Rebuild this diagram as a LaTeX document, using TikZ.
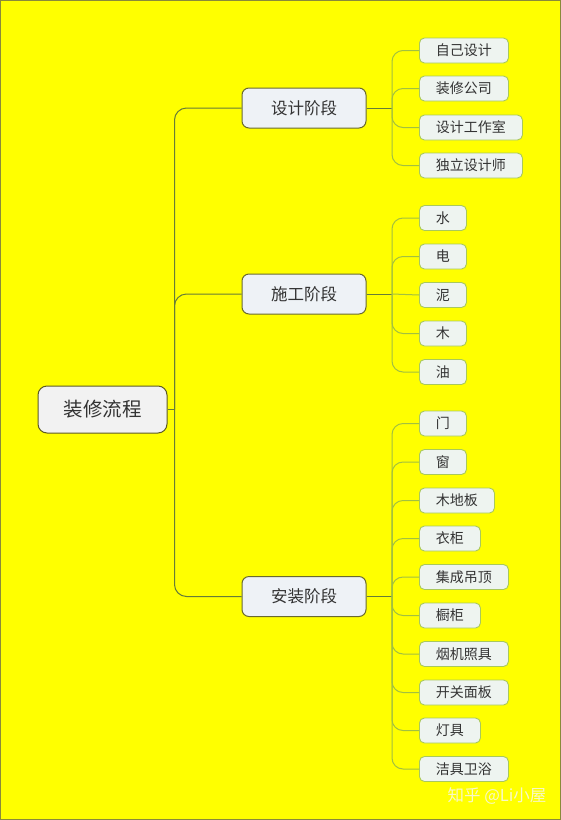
\documentclass[tikz,border=0pt]{standalone}
\usepackage{fontspec}
\newfontfamily\cjk{Noto Sans CJK SC}
\begin{document}
\begin{tikzpicture}[x=1pt,y=-1pt,
  rootbox/.style={draw=rootline,fill=rootfill,rounded corners=9pt,line width=1pt,minimum width=129pt,minimum height=47pt,inner sep=0pt,font=\cjk\fontsize{19.5}{22}\selectfont,text=txt},
  midbox/.style={draw=midline,fill=midfill,rounded corners=7pt,line width=1pt,minimum width=124pt,minimum height=40pt,inner sep=0pt,font=\cjk\fontsize{16.5}{19}\selectfont,text=txt},
  leafbox/.style={draw=leafline,fill=leaffill,rounded corners=5pt,line width=0.9pt,minimum height=25pt,inner xsep=16.5pt,inner ysep=0pt,anchor=west,font=\cjk\fontsize{14}{16}\selectfont,text=txt},
  trunk/.style={draw=trunkcol,line width=1pt,rounded corners=12pt},
  twig/.style={draw=twigcol,line width=1pt,rounded corners=11pt}
]
\definecolor{bg}{HTML}{FFFF00}
\definecolor{frame}{HTML}{8A8A3A}
\definecolor{rootline}{HTML}{5C5A24}
\definecolor{rootfill}{HTML}{F2F2F2}
\definecolor{midline}{HTML}{6A6A2E}
\definecolor{midfill}{HTML}{EEF2F6}
\definecolor{leafline}{HTML}{A9C85C}
\definecolor{leaffill}{HTML}{EEF4F0}
\definecolor{txt}{HTML}{333333}
\definecolor{trunkcol}{HTML}{667C38}
\definecolor{twigcol}{HTML}{A2C040}
\definecolor{mark}{HTML}{F8F8C8}

\fill[bg] (0,0) rectangle (561,820);
\draw[frame,line width=1.2pt] (0.6,0.6) rectangle (560.4,819.4);
\useasboundingbox (0,0) rectangle (561,820);

\node[rootbox] (root) at (102.5,409.5) {装修流程};
\node[midbox] (d) at (304,108) {设计阶段};
\node[midbox] (s) at (304,294) {施工阶段};
\node[midbox] (z) at (304,596.5) {安装阶段};

\coordinate (tj) at (174.5,409.5);
\draw[trunk] (root.east) -- (tj);
\draw[trunk] (tj) |- (d.west);
\draw[trunk] (tj) |- (s.west);
\draw[trunk] (tj) |- (z.west);

% design leaves
\node[leafbox] (d1) at (419,50.5) {自己设计};
\node[leafbox] (d2) at (419,88.5) {装修公司};
\node[leafbox] (d3) at (419,127.5) {设计工作室};
\node[leafbox] (d4) at (419,165.5) {独立设计师};
\coordinate (dj) at (392,108);
\draw[trunk] (d.east) -- (dj);
\foreach \n in {d1,d2,d3,d4} \draw[twig] (dj) |- (\n.west);

% construction leaves
\node[leafbox] (s1) at (419,218) {水};
\node[leafbox] (s2) at (419,256.5) {电};
\node[leafbox] (s3) at (419,295) {泥};
\node[leafbox] (s4) at (419,333.5) {木};
\node[leafbox] (s5) at (419,372) {油};
\coordinate (sj) at (392,294);
\draw[trunk] (s.east) -- (sj);
\foreach \n in {s1,s2,s4,s5} \draw[twig] (sj) |- (\n.west);
\draw[twig] (sj) -- (s3.west);

% installation leaves
\node[leafbox] (z1) at (419,423.5) {门};
\node[leafbox] (z2) at (419,462) {窗};
\node[leafbox] (z3) at (419,500.5) {木地板};
\node[leafbox] (z4) at (419,538.5) {衣柜};
\node[leafbox] (z5) at (419,577) {集成吊顶};
\node[leafbox] (z6) at (419,615.5) {橱柜};
\node[leafbox] (z7) at (419,654) {烟机照具};
\node[leafbox] (z8) at (419,692.5) {开关面板};
\node[leafbox] (z9) at (419,730.5) {灯具};
\node[leafbox] (z10) at (419,769) {洁具卫浴};
\coordinate (zj) at (392,596.5);
\draw[trunk] (z.east) -- (zj);
\foreach \n in {z1,z2,z3,z4,z5,z6,z7,z8,z9,z10} \draw[twig] (zj) |- (\n.west);

\node[font=\cjk\fontsize{16.5}{19}\selectfont,text=mark,anchor=center] (wm) at (497,796) {知乎 @Li小屋};
\end{tikzpicture}
\end{document}
